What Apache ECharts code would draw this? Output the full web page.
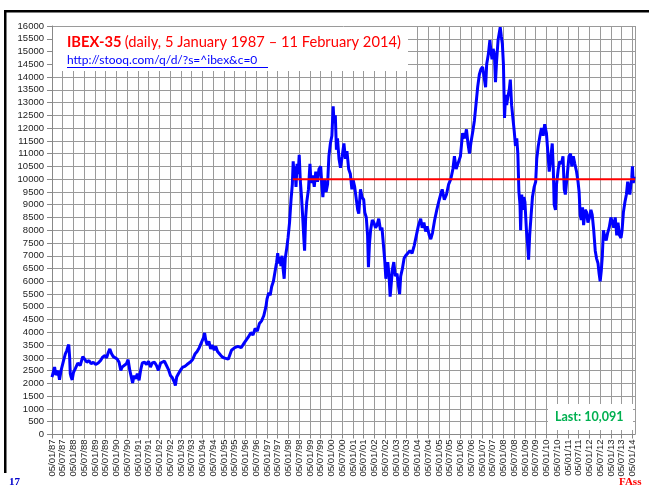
<!DOCTYPE html>
<html>
<head>
<meta charset="utf-8">
<script src="https://cdn.jsdelivr.net/npm/echarts@6/dist/echarts.min.js"></script>
<style>
  html, body { margin: 0; padding: 0; background: #fff; }
  #chart { width: 649px; height: 490px; }
</style>
</head>
<body>
<div id="chart"></div>
<script>
// decimal year of each sample
var dates = [
  1987.00, 1987.12, 1987.18, 1987.28, 1987.35, 1987.42, 1987.46, 1987.54, 1987.62, 1987.69,
  1987.74, 1987.78, 1987.82, 1987.85, 1987.89, 1987.94, 1988.00, 1988.08, 1988.20, 1988.31,
  1988.43, 1988.51, 1988.62, 1988.72, 1988.82, 1988.92, 1989.03, 1989.15, 1989.26, 1989.35,
  1989.46, 1989.54, 1989.62, 1989.69, 1989.77, 1989.85, 1989.92, 1990.03, 1990.12, 1990.20,
  1990.26, 1990.35, 1990.46, 1990.54, 1990.62, 1990.69, 1990.75, 1990.82, 1990.89, 1990.97,
  1991.05, 1991.12, 1991.20, 1991.31, 1991.40, 1991.49, 1991.58, 1991.66, 1991.77, 1991.86,
  1991.95, 1992.05, 1992.14, 1992.23, 1992.32, 1992.42, 1992.51, 1992.60, 1992.69, 1992.74,
  1992.80, 1992.88, 1992.97, 1993.08, 1993.18, 1993.28,
  1993.35, 1993.45, 1993.55, 1993.65, 1993.75, 1993.85, 1993.95, 1994.05, 1994.10, 1994.15,
  1994.22, 1994.30, 1994.38, 1994.45, 1994.55, 1994.62, 1994.70, 1994.80, 1994.90, 1995.00,
  1995.20, 1995.35, 1995.50, 1995.65, 1995.80, 1995.95,
  1996.00, 1996.12, 1996.25, 1996.35, 1996.45, 1996.55, 1996.65, 1996.75, 1996.85, 1996.95,
  1997.00, 1997.08, 1997.15, 1997.22, 1997.30, 1997.38, 1997.45, 1997.50, 1997.55, 1997.60,
  1997.65, 1997.70, 1997.75, 1997.80, 1997.85, 1997.92, 1997.98, 1998.05, 1998.12, 1998.18,
  1998.22, 1998.26, 1998.30, 1998.35, 1998.40, 1998.45, 1998.50, 1998.55, 1998.60, 1998.66,
  1998.72, 1998.75, 1998.80, 1998.85, 1998.93, 1999.00, 1999.05, 1999.12, 1999.20, 1999.27,
  1999.35, 1999.42, 1999.50, 1999.55, 1999.60, 1999.67, 1999.75, 1999.82, 1999.88, 1999.95,
  2000.02, 2000.08, 2000.12, 2000.18, 2000.23, 2000.28, 2000.35, 2000.42, 2000.50, 2000.58,
  2000.65, 2000.72, 2000.80, 2000.88, 2000.95, 2001.00, 2001.08, 2001.15, 2001.22, 2001.27,
  2001.35, 2001.42, 2001.50, 2001.55, 2001.62, 2001.68, 2001.72, 2001.77, 2001.82, 2001.90,
  2001.97, 2002.05, 2002.12, 2002.20, 2002.28, 2002.35, 2002.42, 2002.48, 2002.53, 2002.57,
  2002.62, 2002.68, 2002.73, 2002.78, 2002.83, 2002.90, 2002.97, 2003.05, 2003.12, 2003.17,
  2003.22, 2003.30, 2003.38, 2003.45, 2003.55, 2003.65, 2003.75, 2003.85, 2003.95, 2004.05,
  2004.15, 2004.22, 2004.30, 2004.38, 2004.45, 2004.55, 2004.62, 2004.70, 2004.80, 2004.90,
  2005.00, 2005.08, 2005.15, 2005.25, 2005.35, 2005.45, 2005.55, 2005.65, 2005.72, 2005.80,
  2005.88, 2006.00, 2006.10, 2006.20, 2006.28, 2006.35, 2006.42, 2006.50, 2006.58, 2006.65,
  2006.72, 2006.80, 2006.88, 2006.95, 2007.03, 2007.10, 2007.17, 2007.22, 2007.30, 2007.37,
  2007.42, 2007.47, 2007.52, 2007.58, 2007.63, 2007.68, 2007.75, 2007.80, 2007.85, 2007.90,
  2007.95, 2008.00, 2008.05, 2008.10, 2008.15, 2008.20, 2008.27, 2008.32, 2008.38, 2008.45,
  2008.50, 2008.56, 2008.62, 2008.67, 2008.72, 2008.77, 2008.80, 2008.85, 2008.90, 2008.95,
  2009.00, 2009.07, 2009.12, 2009.17, 2009.22, 2009.28, 2009.35, 2009.43, 2009.50, 2009.55,
  2009.62, 2009.70, 2009.77, 2009.85, 2009.92, 2010.00, 2010.07, 2010.13, 2010.20, 2010.27,
  2010.32, 2010.36, 2010.42, 2010.47, 2010.55, 2010.62, 2010.70, 2010.77, 2010.83, 2010.88,
  2010.95, 2011.05, 2011.12, 2011.18, 2011.25, 2011.32, 2011.40, 2011.47, 2011.52, 2011.57,
  2011.62, 2011.68, 2011.73, 2011.80, 2011.87, 2011.93, 2012.00, 2012.07, 2012.13, 2012.20,
  2012.27, 2012.33, 2012.40, 2012.45, 2012.50, 2012.55, 2012.60, 2012.65, 2012.70, 2012.78,
  2012.85, 2012.92, 2013.00, 2013.07, 2013.13, 2013.20, 2013.27, 2013.33, 2013.40, 2013.47,
  2013.52, 2013.58, 2013.65, 2013.72, 2013.78, 2013.83, 2013.88, 2013.93, 2013.97, 2014.00,
  2014.04, 2014.08, 2014.11
];

// IBEX-35 close
var closes = [
  2250, 2640, 2330, 2500, 2140, 2500, 2440, 2900, 3160, 3290,
  3440, 3520, 3030, 2380, 2250, 2140, 2440, 2570, 2800, 2700,
  3050, 2960, 2830, 2900, 2770, 2830, 2740, 2800, 2900, 3030,
  3090, 3000, 3220, 3350, 3160, 3050, 3000, 2960, 2830, 2510,
  2640, 2700, 2770, 2930, 2510, 2250, 2020, 2310, 2180, 2380,
  2120, 2510, 2800, 2830, 2740, 2870, 2640, 2800, 2830, 2700,
  2510, 2800, 2770, 2870, 2800, 2540, 2310, 2220, 2050, 1920,
  2250, 2380, 2510, 2640, 2670, 2740,
  2700, 2850, 2950, 3150, 3250, 3400, 3600, 3800, 3980, 3700,
  3500, 3650, 3350, 3500, 3300, 3450, 3250, 3150, 3050, 3000,
  2950, 3300, 3400, 3450, 3400, 3600,
  3650, 3800, 3990, 3900, 4150, 4050, 4350, 4450, 4650, 5000,
  5300, 5550, 5450, 5800, 6000, 6400, 6750, 7100, 6700, 6950,
  6600, 7000, 6500, 6100, 6900, 7300, 7700, 8300, 9200, 9800,
  10700, 10100, 10500, 9700, 10600, 10200, 10950, 9950, 9400, 8550,
  7600, 7200, 8500, 9100, 9600, 10600, 9850, 10150, 9700, 10300,
  9900, 10400, 10500, 9800, 9300, 10000, 9500, 9800, 10900, 11400,
  11700, 12850, 12200, 12500, 11150, 11600, 10800, 10450, 10900, 11400,
  10800, 11100, 10400, 10200, 9600, 10000, 9700, 9750, 8800, 8650,
  9600, 9300, 9200, 8700, 8500, 7800, 6550, 7500, 8000, 8400,
  8300, 8100, 8200, 8450, 8000, 8100, 7400, 6800, 6100, 6500,
  6750, 6200, 5400, 5900, 6450, 6750, 6200, 6300, 5800, 5500,
  6200, 6500, 6900, 7000, 7100, 7200, 7100, 7400, 7800, 8200,
  8450, 8100, 8300, 7950, 8150, 7800, 7650, 7900, 8400, 8800,
  9150, 9400, 9600, 9200, 9400, 9800, 10000, 10400, 10900, 10400,
  10600, 10900, 11800, 11600, 11950, 11400, 11000, 11500, 11900, 12300,
  12900, 13600, 14100, 14300, 14400, 14000, 13600, 14500, 14900, 15450,
  15000, 14700, 15100, 14900, 13800, 14600, 15450, 15700, 15950, 15600,
  15300, 14500, 12400, 13300, 12900, 13200, 13500, 13900, 12900, 12300,
  11900, 11300, 11600, 11000, 9500, 9000, 8000, 9400, 8800, 9300,
  9100, 8000, 7500, 6850, 7800, 8500, 9300, 9700, 9900, 10800,
  11300, 11700, 12000, 11700, 12150, 11800, 11000, 10300, 10800, 11400,
  10400, 9000, 8800, 9800, 10400, 10700, 10600, 10900, 9600, 9400,
  10000, 10900, 11000, 10500, 10900, 10600, 10300, 9900, 9500, 8600,
  8400, 8900, 8200, 8800, 8700, 8300, 8500, 8800, 8600, 8000,
  7200, 6900, 6700, 6300, 6000, 6400, 7000, 8000, 7800, 7600,
  7900, 8100, 8500, 8300, 8100, 8500, 7800, 8300, 7800, 7700,
  8000, 8700, 9100, 9400, 9900, 9600, 9400, 9800, 10050, 10500,
  9850, 10100, 10091
];

// horizontal reference level and where it runs
var refLevel = 10000;
var refStart = 1998.2;
var refEnd = 2014.12;

var xMin = 1987, xMax = 2014.12;

var chart = echarts.init(document.getElementById('chart'));
var pts = dates.map(function (d, i) { return [d, closes[i]]; });

chart.setOption({
  animation: false,
  backgroundColor: '#fff',
  grid: { left: 52, right: 14, top: 26, bottom: 55.5, containLabel: false },
  xAxis: {
    type: 'value',
    min: xMin,
    max: xMax,
    interval: 0.5,
    axisLine: { show: true, lineStyle: { color: '#888', width: 1 } },
    axisTick: { show: true, length: 4, lineStyle: { color: '#888' } },
    splitLine: { show: true, lineStyle: { color: '#9a9a9a', width: 1 } },
    axisLabel: {
      rotate: 90,
      margin: 5,
      fontSize: 9.5,
      fontFamily: 'Liberation Sans',
      color: '#222',
      showMaxLabel: false,
      formatter: function (v) {
        if (Math.abs(v * 2 - Math.round(v * 2)) > 1e-6) return '';
        var y = Math.floor(v + 1e-6);
        var m = (v - y) > 0.25 ? '07' : '01';
        return '05/' + m + '/' + String(y).slice(2);
      }
    }
  },
  yAxis: {
    type: 'value',
    min: 0,
    max: 16000,
    interval: 500,
    axisLine: { show: true, lineStyle: { color: '#888', width: 1 } },
    axisTick: { show: true, length: 5, lineStyle: { color: '#888' } },
    splitLine: { show: true, lineStyle: { color: '#9a9a9a', width: 1 } },
    axisLabel: {
      fontSize: 9.5, fontFamily: 'Liberation Sans', color: '#222', margin: 8,
      formatter: function (v) { return String(v); }
    }
  },
  series: [
    {
      type: 'line',
      data: pts,
      showSymbol: false,
      lineStyle: { color: '#0000FF', width: 3 },
      z: 3
    },
    {
      type: 'line',
      data: [[refStart, refLevel], [refEnd, refLevel]],
      showSymbol: false,
      lineStyle: { color: '#FF0000', width: 2 },
      z: 4
    }
  ],
  graphic: [
    // slide frame
    { type: 'rect', shape: { x: 4, y: 10, width: 645, height: 2.5 }, style: { fill: '#000' }, z: 100 },
    { type: 'rect', shape: { x: 4, y: 10, width: 2.5, height: 463 }, style: { fill: '#000' }, z: 100 },
    // title box
    { type: 'rect', shape: { x: 53, y: 27, width: 355, height: 44 }, style: { fill: '#fff' }, z: 100 },
    {
      type: 'text', left: 67, top: 35, z: 101,
      style: {
        text: '{b|IBEX-35} {n|(daily, 5 January 1987 – 11 February 2014)}',
        rich: {
          b: { fontSize: 14.7, fontWeight: 'bold', fill: '#FF0000', fontFamily: 'Lato' },
          n: { fontSize: 14.7, fill: '#FF0000', fontFamily: 'Lato' }
        }
      }
    },
    {
      type: 'text', left: 67, top: 54, z: 101,
      style: { text: 'http://stooq.com/q/d/?s=^ibex&c=0', fontSize: 12, fill: '#0000FF', fontFamily: 'Lato' }
    },
    { type: 'rect', shape: { x: 67, y: 67, width: 201, height: 1 }, style: { fill: '#0000FF' }, z: 101 },
    // last value box
    { type: 'rect', shape: { x: 548, y: 404, width: 85, height: 26 }, style: { fill: '#fff' }, z: 100 },
    {
      type: 'text', left: 555, top: 410, z: 101,
      style: { text: 'Last: 10,091', fontSize: 12.5, fontWeight: 'bold', fill: '#00B050', fontFamily: 'Lato' }
    },
    // footer marks
    {
      type: 'text', left: 9, top: 477, z: 101,
      style: { text: '17', fontSize: 11, fontWeight: 'bold', fill: '#0000CC', fontFamily: 'Liberation Serif' }
    },
    {
      type: 'text', left: 619, top: 477, z: 101,
      style: { text: 'FAss', fontSize: 11, fontWeight: 'bold', fill: '#FF0000', fontFamily: 'Liberation Serif' }
    }
  ]
});
</script>
</body>
</html>
